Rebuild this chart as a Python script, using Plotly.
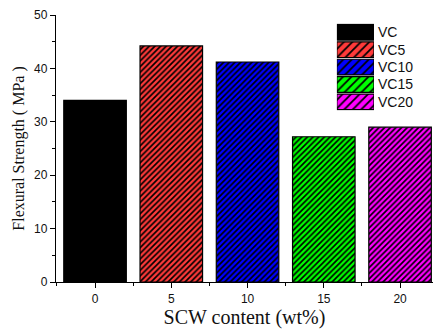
import plotly.graph_objects as go

# ---- data ----
scw_content = [0, 5, 10, 15, 20]
series_names = ["VC", "VC5", "VC10", "VC15", "VC20"]
flexural_strength = [34.0, 44.2, 41.2, 27.2, 29.0]
bar_colors = ["#000000", "#FF3A3A", "#0000FF", "#00FF00", "#FF00FF"]
bar_patterns = ["", "/", "/", "/", "/"]
y_ticks = [0, 10, 20, 30, 40, 50]
x_ticks = [0, 5, 10, 15, 20]

fig = go.Figure()

for xv, yv, name, col, shp in zip(scw_content, flexural_strength, series_names,
                                  bar_colors, bar_patterns):
    # main bar
    fig.add_trace(go.Bar(
        x=[xv], y=[yv], width=4.1, name=name,
        marker=dict(color=col, line=dict(color="black", width=1.2),
                    pattern=dict(shape=shp, fgcolor="#000000", bgcolor=col,
                                 fgopacity=1, size=4, solidity=0.42, fillmode="replace")),
        showlegend=False, xaxis="x", yaxis="y",
    ))
    # legend swatch drawn as a small horizontal bar
    fig.add_trace(go.Bar(
        y=[name], x=[1], base=0, orientation="h", width=0.9,
        marker=dict(color=col, line=dict(color="black", width=1.2),
                    pattern=dict(shape=shp, fgcolor="#000000", bgcolor=col,
                                 fgopacity=1, size=6, solidity=0.3, fillmode="replace")),
        showlegend=False, xaxis="x2", yaxis="y2", hoverinfo="skip",
    ))

axis_font = dict(family="Liberation Sans, Arial", size=12, color="#111")

fig.update_layout(
    width=434, height=329,
    margin=dict(l=56, r=1, t=15, b=47, autoexpand=False),
    paper_bgcolor="white", plot_bgcolor="white",
    showlegend=False,
    barmode="overlay",
    xaxis=dict(
        range=[-2.56, 22.16], tickmode="array", tickvals=x_ticks,
        ticks="outside", ticklen=5, tickwidth=1, tickcolor="black",
        showline=True, linecolor="black", linewidth=1.3,
        showgrid=False, zeroline=False, tickfont=axis_font, automargin=False,
        minor=dict(dtick=2.5, tick0=0, ticks="outside", ticklen=3, tickcolor="black", showgrid=False),
        title=dict(text="SCW content (wt%)", font=dict(family="Liberation Serif, Times New Roman", size=20, color="#111"), standoff=4),
        domain=[0, 1],
    ),
    yaxis=dict(
        range=[0, 50], tickmode="array", tickvals=y_ticks,
        ticks="outside", ticklen=5, tickwidth=1, tickcolor="black",
        showline=True, linecolor="black", linewidth=1.3,
        showgrid=False, zeroline=False, tickfont=axis_font, automargin=False,
        minor=dict(dtick=5, tick0=0, ticks="outside", ticklen=3, tickcolor="black", showgrid=False),
        title=dict(text="Flexural Strength ( MPa )", font=dict(family="Liberation Serif, Times New Roman", size=16, color="#111"), standoff=5),
    ),
    xaxis2=dict(domain=[0.745, 0.8435], range=[0, 1], anchor="y2",
                visible=False, fixedrange=True),
    yaxis2=dict(domain=[0.642, 0.968], anchor="x2", side="right",
                categoryorder="array", categoryarray=series_names, autorange="reversed",
                showline=False, showgrid=False, zeroline=False, ticks="",
                ticklabelstandoff=3, automargin=False,
                tickfont=dict(family="Liberation Sans, Arial", size=14, color="#111")),
)

fig.write_html("out.html", config={"displayModeBar": False},
               post_script="document.body.style.margin='0';")
